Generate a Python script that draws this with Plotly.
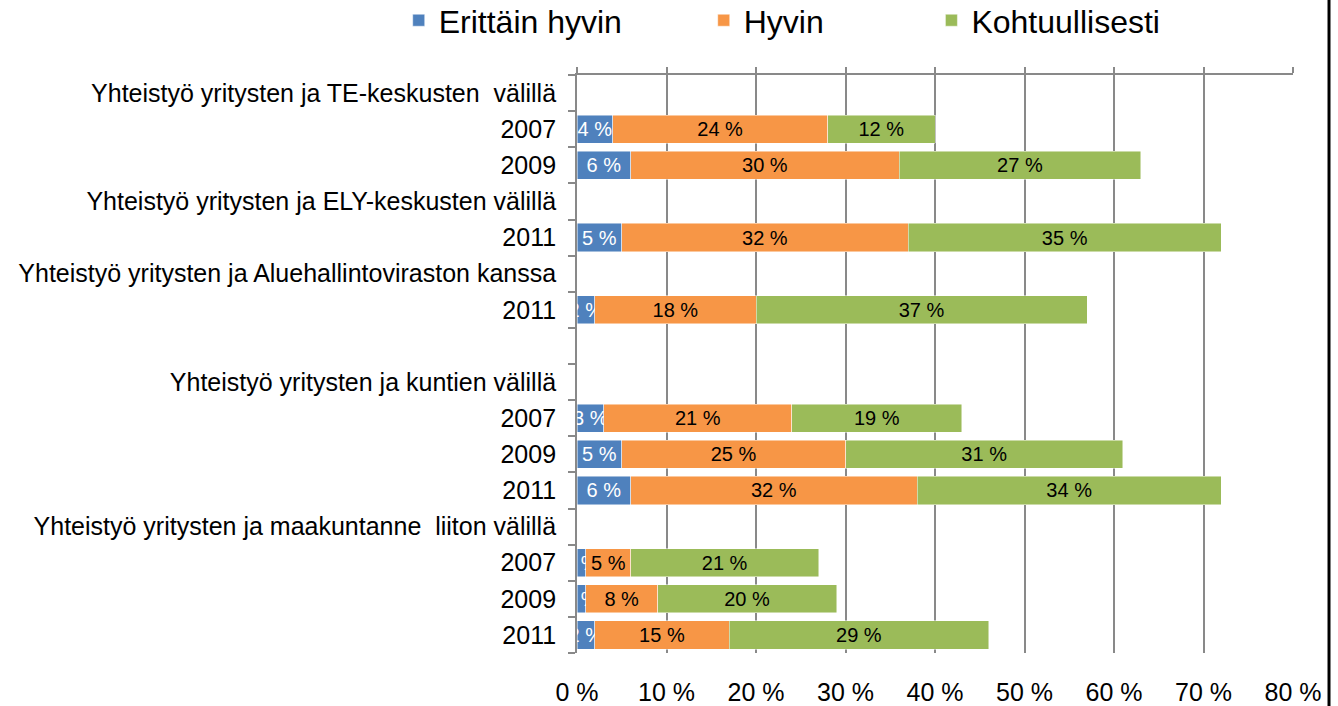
import plotly.graph_objects as go

categories = [
    "Yhteistyö yritysten ja TE-keskusten  välillä",
    "2007",
    "2009",
    "Yhteistyö yritysten ja ELY-keskusten välillä",
    "2011",
    "Yhteistyö yritysten ja Aluehallintoviraston kanssa",
    "2011",
    "",
    "Yhteistyö yritysten ja kuntien välillä",
    "2007",
    "2009",
    "2011",
    "Yhteistyö yritysten ja maakuntanne  liiton välillä",
    "2007",
    "2009",
    "2011",
]

erittain_hyvin = [None, 4, 6, None, 5, None, 2, None, None, 3, 5, 6, None, 1, 1, 2]
hyvin = [None, 24, 30, None, 32, None, 18, None, None, 21, 25, 32, None, 5, 8, 15]
kohtuullisesti = [None, 12, 27, None, 35, None, 37, None, None, 19, 31, 34, None, 21, 20, 29]

series_names = ["Erittäin hyvin", "Hyvin", "Kohtuullisesti"]
series_values = [erittain_hyvin, hyvin, kohtuullisesti]
series_colors = ["#4F81BD", "#F79646", "#9BBB59"]
label_colors = ["white", "black", "black"]
legend_ids = ["legend", "legend2", "legend3"]

x_ticks = [0, 10, 20, 30, 40, 50, 60, 70, 80]

ypos = list(range(len(categories)))
FONT = "Liberation Sans, Arial, sans-serif"
GRID = "#898989"
GW = 1.8

fig = go.Figure()
for name, vals, col, lcol, lg in zip(series_names, series_values, series_colors,
                                     label_colors, legend_ids):
    fig.add_trace(go.Bar(
        name=name,
        legend=lg,
        y=ypos,
        x=vals,
        orientation="h",
        marker=dict(color=col, line=dict(color="rgba(255,255,255,0.6)", width=0.8)),
        text=[f"{v} %" if v is not None else None for v in vals],
        textposition="inside",
        insidetextanchor="middle",
        textangle=0,
        textfont=dict(family=FONT, size=20, color=lcol),
        cliponaxis=True,
        hoverinfo="skip",
    ))

# helper (invisible) trace so the top value axis line with its ticks is drawn
fig.add_trace(go.Scatter(
    x=x_ticks, y=[None] * len(x_ticks), xaxis="x2", yaxis="y",
    mode="markers", showlegend=False, hoverinfo="skip",
    marker=dict(opacity=0),
))

def legend_at(xp):
    return dict(
        orientation="h",
        xref="paper", yref="paper",
        x=xp, y=1.142, xanchor="left", yanchor="top",
        font=dict(family=FONT, size=32, color="black"),
        itemwidth=30,
        bgcolor="rgba(0,0,0,0)",
    )

fig.update_layout(
    barmode="stack",
    bargap=0.22,
    width=1338,
    height=706,
    margin=dict(l=577, r=45, t=75, b=53, autoexpand=False),
    paper_bgcolor="white",
    plot_bgcolor="white",
    font=dict(family=FONT, color="black"),
    uniformtext=dict(mode="show", minsize=20),
    legend=legend_at(-0.249),
    legend2=legend_at(0.177),
    legend3=legend_at(0.495),
    xaxis=dict(
        range=[0, 80],
        tickvals=x_ticks,
        ticktext=[f"{t} %" for t in x_ticks],
        showgrid=True,
        gridcolor=GRID,
        gridwidth=GW,
        showline=False,
        zeroline=False,
        ticks="",
        tickfont=dict(family=FONT, size=25, color="black"),
        ticklabelstandoff=22,
        automargin=False,
    ),
    xaxis2=dict(
        overlaying="x",
        side="top",
        range=[0, 80],
        tickvals=x_ticks,
        showticklabels=False,
        showgrid=False,
        zeroline=False,
        showline=True,
        linecolor=GRID,
        linewidth=GW,
        ticks="outside",
        ticklen=6,
        tickcolor=GRID,
        tickwidth=GW,
        automargin=False,
    ),
    yaxis=dict(
        range=[len(categories) - 0.5, -0.5],
        tickvals=ypos,
        ticktext=categories,
        ticks="",
        showgrid=False,
        zeroline=False,
        showline=True,
        linecolor=GRID,
        linewidth=GW,
        tickfont=dict(family=FONT, size=25, color="black"),
        ticklabelstandoff=14,
        automargin=False,
        minor=dict(ticks="outside", tick0=-0.5, dtick=1, ticklen=7,
                   tickcolor=GRID, tickwidth=GW, showgrid=False),
    ),
)

# Chart-area border at right edge (as in the cropped original)
fig.add_shape(type="line", xref="paper", yref="paper",
              x0=1.0503, x1=1.0503, y0=-0.2, y1=1.3,
              line=dict(color="black", width=3))

fig.write_html(
    "out.html",
    config={"displayModeBar": False},
    post_script="document.body.style.margin='0';document.body.style.overflow='hidden';",
)
